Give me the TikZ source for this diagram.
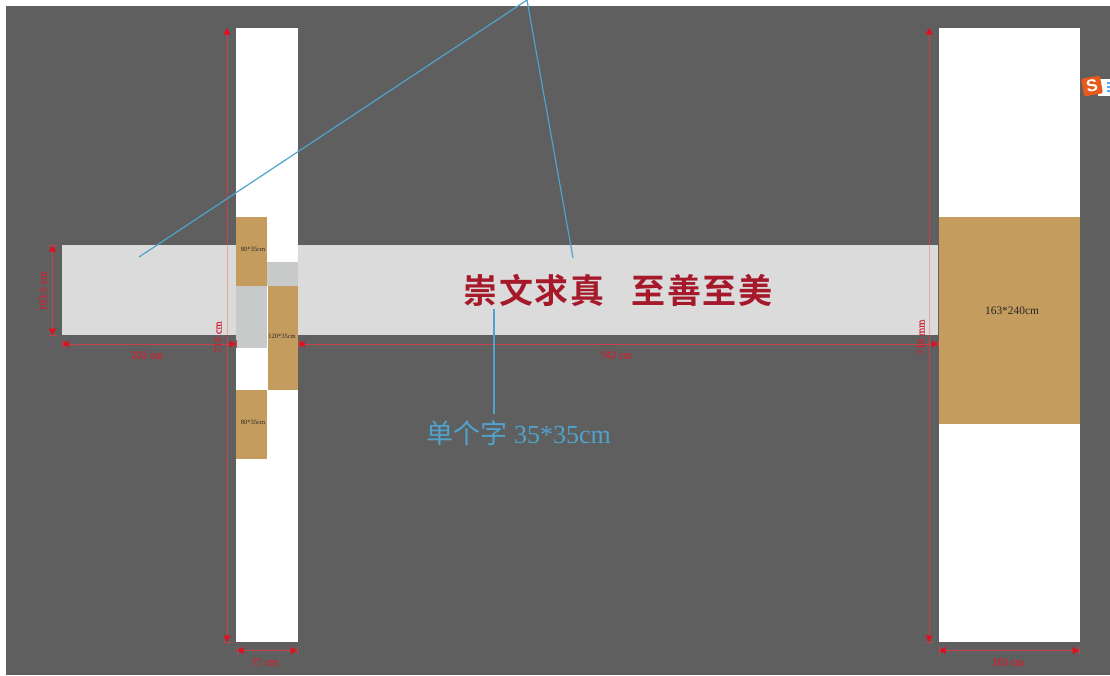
\documentclass[tikz,border=0pt]{standalone}
\usepackage{fontspec}
\setmainfont{Liberation Serif}
\newfontfamily\cjkbold[LetterSpace=5]{Noto Sans CJK SC Bold}
\newfontfamily\cjkplain{Noto Sans CJK SC}
\newfontfamily\sansb{Liberation Sans}
\newfontfamily\dimfont[FakeBold=0.6]{Liberation Serif}
\usetikzlibrary{arrows.meta}
\definecolor{bggray}{HTML}{5F5F5F}
\definecolor{stripgray}{HTML}{DBDBDB}
\definecolor{patchgray}{HTML}{C8CACA}
\definecolor{tan}{HTML}{C49C5E}
\definecolor{dimred}{HTML}{E0101F}
\definecolor{dimlinecol}{HTML}{C8404A}
\definecolor{dimpale}{HTML}{E3A9A0}
\definecolor{dimtext}{HTML}{CC2431}
\definecolor{callout}{HTML}{4FA3CC}
\definecolor{titlered}{HTML}{A5192A}
\definecolor{logoorange}{HTML}{E8591C}
\tikzset{
  panel/.style={anchor=north west,inner sep=0pt,outer sep=0pt,minimum width=#1},
  dimline/.style={draw=dimlinecol,line width=.7pt,{Triangle[width=7pt,length=6.5pt,color=dimred,fill=dimred]}-{Triangle[width=7pt,length=6.5pt,color=dimred,fill=dimred]}},
  dimtick/.style={draw=dimlinecol,line width=.5pt},
  dimtxt/.style={text=dimtext,font=\dimfont\fontsize{10.6}{11}\selectfont,inner sep=0pt},
  smalltxt/.style={text=black!85,font=\fontsize{6.5}{7}\selectfont,inner sep=0pt},
  leader/.style={draw=callout,line width=1.2pt},
}
\begin{document}
\begin{tikzpicture}[x=1pt,y=-1pt]
\useasboundingbox (0,0) rectangle (1110,675);
\fill[white] (0,0) rectangle (1110,675);
\fill[bggray] (6,6) rectangle (1110,675);
% panels
\node[panel=876pt,minimum height=90pt,fill=stripgray] (strip) at (62,245) {};
\node[panel=61.5pt,minimum height=614pt,fill=white] (poleL) at (236,28) {};
\node[panel=141pt,minimum height=614pt,fill=white] (poleR) at (938.5,28) {};
\node[panel=31pt,minimum height=62pt,fill=patchgray] (patchA) at (236,286) {};
\node[panel=31pt,minimum height=24pt,fill=patchgray] (patchB) at (267,262) {};
\node[panel=31pt,minimum height=69pt,fill=tan] (tanA) at (236,217) {};
\node[panel=30pt,minimum height=104pt,fill=tan] (tanB) at (268,286) {};
\node[panel=31pt,minimum height=69pt,fill=tan] (tanC) at (236,390) {};
\node[panel=141pt,minimum height=207pt,fill=tan] (tanR) at (938.5,217) {};
\node[smalltxt] (tA) at (253,249.5) {80*35cm};
\node[smalltxt] (tB) at (282,336) {120*35cm};
\node[smalltxt] (tC) at (253,422) {80*35cm};
\node[text=black!85,font=\fontsize{11.4}{12}\selectfont,inner sep=0pt] (tR) at (1012,311) {163*240cm};
% dimension anchors
\coordinate (vLt) at (227,28);  \coordinate (vLb) at (227,642);
\coordinate (vRt) at (929,28);  \coordinate (vRb) at (929,642);
\coordinate (hAl) at (62,344);  \coordinate (hAr) at (236,344);
\coordinate (hBl) at (298,344); \coordinate (hBr) at (938,344);
\coordinate (sLt) at (52.5,245); \coordinate (sLb) at (52.5,335);
\coordinate (bLl) at (237,650.5); \coordinate (bLr) at (297,650.5);
\coordinate (bRl) at (939,650.5); \coordinate (bRr) at (1079,650.5);
\foreach \a/\b in {vLt/vLb,vRt/vRb,hAl/hAr,hBl/hBr,sLt/sLb,bLl/bLr,bRl/bRr}
  \draw[dimline] (\a) -- (\b);
% the two long measures read pale where they cross the light strip
\foreach \x in {227,929}
  \draw[draw=dimpale,line width=.7pt] (\x,245) -- (\x,335);
% end ticks
\foreach \c in {vLb,vRb,sLt,sLb}
  \draw[dimtick] ([xshift=-4pt]\c) -- ([xshift=4pt]\c);
\foreach \c in {hAl,hAr,hBl,hBr,bLl,bLr,bRl,bRr}
  \draw[dimtick] ([yshift=-4pt]\c) -- ([yshift=4pt]\c);
\node[dimtxt,rotate=90] (d1) at (218,337) {710 cm};
\node[dimtxt,rotate=90] (d2) at (921,337) {710 mm};
\node[dimtxt,rotate=90] (d3) at (43,291) {103.5 cm};
\node[dimtxt] (d4) at (147,355) {202 cm};
\node[dimtxt] (d5) at (616,355) {742 cm};
\node[dimtxt] (d6) at (265,662) {71 cm};
\node[dimtxt] (d7) at (1008,662) {163 cm};
% title
\node[inner sep=0pt,text=titlered] (title) at (618,290) {\cjkbold\fontsize{34}{36}\selectfont 崇文求真\hspace{27pt}至善至美};
% callouts
\coordinate (apex) at (527,0);
\coordinate (leftEnd) at (139,257);
\coordinate (rightEnd) at (573,258);
\coordinate (wordTop) at (494,309);
\coordinate (wordBot) at (494,414);
\draw[leader] (leftEnd) -- (apex) -- (rightEnd);
\draw[leader] (wordTop) -- (wordBot);
\node[inner sep=0pt,text=callout] (wordlabel) at (518.5,433) {\cjkplain\fontsize{27}{28}\selectfont 单个字\hspace{7pt}\rmfamily\fontsize{26}{28}\selectfont 35*35cm};
% input-method badge at the right edge
\fill[white] (1098,79) rectangle (1110,96);
\fill[blue!45!cyan!70] (1107,82) rectangle (1110,84) (1107,86) rectangle (1110,88) (1107,90) rectangle (1110,92);
\node[rotate=10,fill=logoorange,rounded corners=1.5pt,minimum width=19pt,minimum height=18pt,inner sep=0pt,text=white,font=\sansb\bfseries\fontsize{17}{17}\selectfont] (badge) at (1092,86) {S};
\end{tikzpicture}
\end{document}
